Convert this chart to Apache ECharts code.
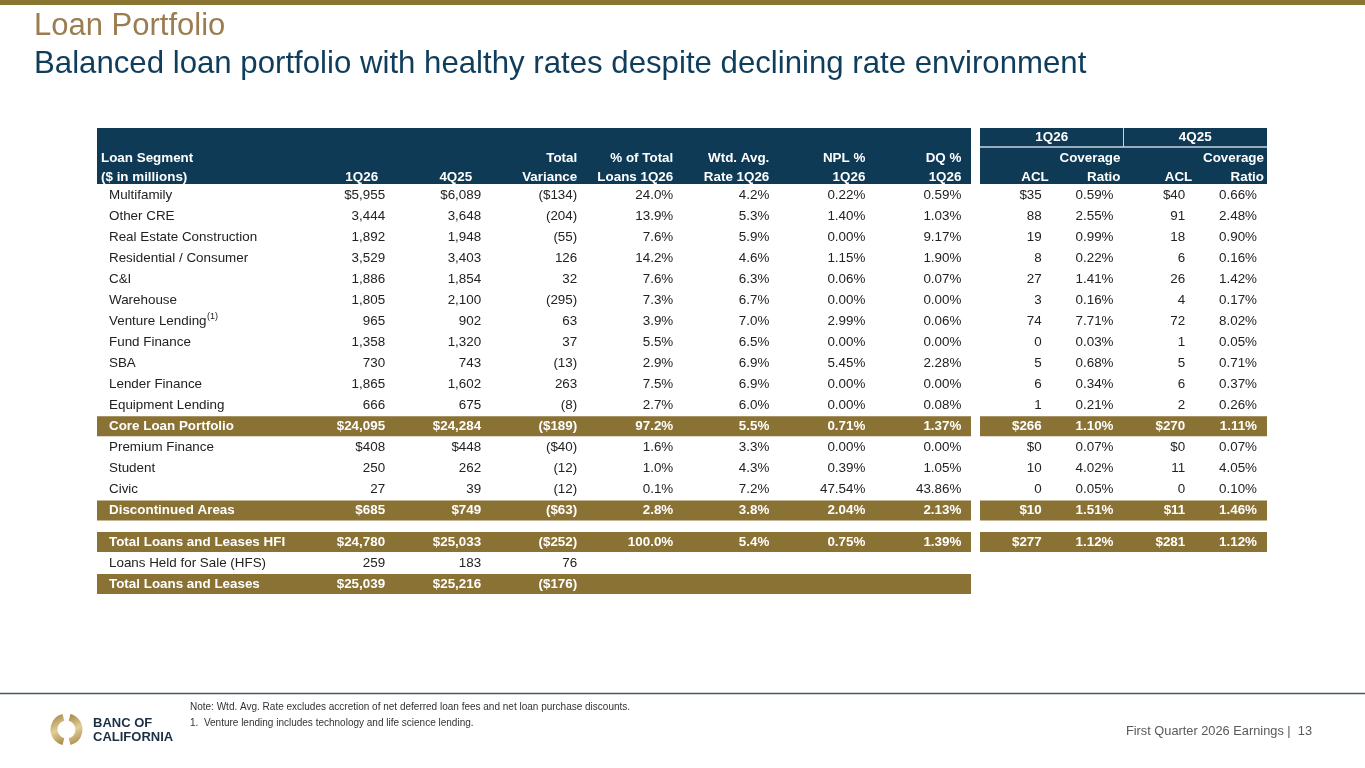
<!DOCTYPE html>
<html lang="en">
<head>
	<meta charset="UTF-8">
	<title>Loan Portfolio</title>
	<style>
		html, body { margin: 0; padding: 0; background: #fff; }
		#main { width: 1365px; height: 768px; }
	</style>
</head>
<body>
	<div id="main"></div>
</body>
</html>

<script src="https://cdn.jsdelivr.net/npm/echarts@6.0.0/dist/echarts.min.js"></script>
<script>

	var FONT = '"Liberation Sans", Arial, sans-serif';
	var FS = 13.4;
	var NAVY = '#0e3a56';
	var GOLD = '#8a7235';
	var INK = '#222222';

	// rows of the table (top block 0..15, bottom block 16..18)
	var segments = ['Multifamily', 'Other CRE', 'Real Estate Construction', 'Residential / Consumer', 'C&I',
		'Warehouse', 'Venture Lending', 'Fund Finance', 'SBA', 'Lender Finance', 'Equipment Lending',
		'Core Loan Portfolio', 'Premium Finance', 'Student', 'Civic', 'Discontinued Areas',
		'Total Loans and Leases HFI', 'Loans Held for Sale (HFS)', 'Total Loans and Leases'];

	var bal1Q26 = [5955, 3444, 1892, 3529, 1886, 1805, 965, 1358, 730, 1865, 666, 24095, 408, 250, 27, 685, 24780, 259, 25039];
	var bal4Q25 = [6089, 3648, 1948, 3403, 1854, 2100, 902, 1320, 743, 1602, 675, 24284, 448, 262, 39, 749, 25033, 183, 25216];
	var variance = [-134, -204, -55, 126, 32, -295, 63, 37, -13, 263, -8, -189, -40, -12, -12, -63, -252, 76, -176];
	var pctTotal = [24.0, 13.9, 7.6, 14.2, 7.6, 7.3, 3.9, 5.5, 2.9, 7.5, 2.7, 97.2, 1.6, 1.0, 0.1, 2.8, 100.0];
	var wtdRate = [4.2, 5.3, 5.9, 4.6, 6.3, 6.7, 7.0, 6.5, 6.9, 6.9, 6.0, 5.5, 3.3, 4.3, 7.2, 3.8, 5.4];
	var nplPct = [0.22, 1.40, 0.00, 1.15, 0.06, 0.00, 2.99, 0.00, 5.45, 0.00, 0.00, 0.71, 0.00, 0.39, 47.54, 2.04, 0.75];
	var dqPct = [0.59, 1.03, 9.17, 1.90, 0.07, 0.00, 0.06, 0.00, 2.28, 0.00, 0.08, 1.37, 0.00, 1.05, 43.86, 2.13, 1.39];
	var acl1Q26 = [35, 88, 19, 8, 27, 3, 74, 0, 5, 6, 1, 266, 0, 10, 0, 10, 277];
	var cov1Q26 = [0.59, 2.55, 0.99, 0.22, 1.41, 0.16, 7.71, 0.03, 0.68, 0.34, 0.21, 1.10, 0.07, 4.02, 0.05, 1.51, 1.12];
	var acl4Q25 = [40, 91, 18, 6, 26, 4, 72, 1, 5, 6, 2, 270, 0, 11, 0, 11, 281];
	var cov4Q25 = [0.66, 2.48, 0.90, 0.16, 1.42, 0.17, 8.02, 0.05, 0.71, 0.37, 0.26, 1.11, 0.07, 4.05, 0.10, 1.46, 1.12];

	var dollarRows = [0, 11, 12, 15, 16, 18];
	var totalRows = [11, 15, 16, 18];
	var footnotes = { 6: '(1)' };

	var leftHead1 = ['Loan Segment', '', '', 'Total', '% of Total', 'Wtd. Avg.', 'NPL %', 'DQ %'];
	var leftHead2 = ['($ in millions)', '1Q26', '4Q25', 'Variance', 'Loans 1Q26', 'Rate 1Q26', '1Q26', '1Q26'];
	var rightGroups = ['1Q26', '4Q25'];
	var rightHead1 = ['', 'Coverage', '', 'Coverage'];
	var rightHead2 = ['ACL', 'Ratio', 'ACL', 'Ratio'];

	// layout only
	var leftHeadDx = [0, -7, -9, 0, 0, 0, 0, 0];

	function slotOf(i) { return i >= 16 ? i + 0.5 : i; }   // small gap before the HFI block
	function money(v, i) {
		var s = Math.abs(v).toLocaleString('en-US');
		if (dollarRows.indexOf(i) >= 0) s = '$' + s;
		return v < 0 ? '(' + s + ')' : s;
	}
	function pct(v, d) { return v.toFixed(d) + '%'; }

	var measureCtx = document.createElement('canvas').getContext('2d');
	function textWidth(t, font) {
		measureCtx.font = font;
		return measureCtx.measureText(t).width;
	}

	var leftCells = [], rightCells = [];
	segments.forEach(function (name, i) {
		var row = [name, money(bal1Q26[i], i), money(bal4Q25[i], i), money(variance[i], i)];
		if (i < pctTotal.length) {
			row.push(pct(pctTotal[i], 1), pct(wtdRate[i], 1), pct(nplPct[i], 2), pct(dqPct[i], 2));
		}
		row.forEach(function (t, c) {
			leftCells.push({ value: [c === 0 ? -2 : c, slotOf(i)], text: t, row: i });
		});
		if (i < acl1Q26.length) {
			[money(acl1Q26[i], i), pct(cov1Q26[i], 2), money(acl4Q25[i], i), pct(cov4Q25[i], 2)].forEach(function (t, c) {
				rightCells.push({ value: [c + 1, slotOf(i)], text: t, row: i });
			});
		}
	});

	var leftBands = totalRows.map(function (r) { return [0, slotOf(r)]; });
	var rightBands = totalRows.filter(function (r) { return r < acl1Q26.length; })
		.map(function (r) { return [1, slotOf(r)]; });

	function cellRender(cells, pad) {
		return function (params, api) {
			var cell = cells[params.dataIndex];
			var p = api.coord([api.value(0), api.value(1)]);
			var total = totalRows.indexOf(cell.row) >= 0;
			var isLabel = api.value(0) < 0;
			var x = isLabel ? p[0] + 12 : p[0] - pad;
			var main = {
				type: 'text', x: x, y: p[1], z2: 10,
				style: {
					text: cell.text,
					fill: total ? '#ffffff' : INK,
					fontSize: FS, fontFamily: FONT,
					fontWeight: total ? 'bold' : 'normal',
					align: isLabel ? 'left' : 'right',
					verticalAlign: 'middle'
				}
			};
			if (!(isLabel && footnotes[cell.row])) return main;
			var w = textWidth(cell.text, FS + 'px ' + FONT);
			return {
				type: 'group',
				children: [main, {
					type: 'text', x: x + w + 0.5, y: p[1] - 4.5, z2: 10,
					style: { text: footnotes[cell.row], fill: INK, fontSize: 9, fontFamily: FONT, align: 'left', verticalAlign: 'middle' }
				}]
			};
		};
	}

	function bandRender(params, api) {
		var p = api.coord([api.value(0), api.value(1)]);
		var cs = params.coordSys;
		return {
			type: 'rect',
			shape: { x: cs.x, y: p[1] - 10, width: cs.width, height: 20 },
			style: { fill: GOLD }
		};
	}

	function headText(t, x, y, align) {
		return {
			type: 'text', x: x, y: y, z2: 10,
			style: { text: t, fill: '#ffffff', fontSize: FS, fontWeight: 'bold', fontFamily: FONT, align: align, verticalAlign: 'middle' }
		};
	}

	function leftHeader(params, api) {
		var cs = params.coordSys;
		var kids = [{ type: 'rect', shape: { x: cs.x, y: cs.y - 56.5, width: cs.width, height: 56 }, style: { fill: NAVY } }];
		leftHead1.forEach(function (h, c) {
			var x = c === 0 ? cs.x + 4 : api.coord([c, 0])[0] + leftHeadDx[c];
			var al = c === 0 ? 'left' : 'right';
			if (h) kids.push(headText(h, x, cs.y - 26.5, al));
			if (leftHead2[c]) kids.push(headText(leftHead2[c], x, cs.y - 7, al));
		});
		return { type: 'group', children: kids };
	}

	function rightHeader(params, api) {
		var cs = params.coordSys;
		var lineY = cs.y - 37.5;
		var mid = api.coord([2, 0])[0];
		var kids = [
			{ type: 'rect', shape: { x: cs.x, y: cs.y - 56.5, width: cs.width, height: 56 }, style: { fill: NAVY } },
			{ type: 'line', z2: 5, shape: { x1: cs.x, y1: lineY, x2: cs.x + cs.width, y2: lineY }, style: { stroke: '#c9d3dc', lineWidth: 1.5 } },
			{ type: 'line', z2: 5, shape: { x1: mid, y1: cs.y - 56.5, x2: mid, y2: lineY }, style: { stroke: '#c9d3dc', lineWidth: 1 } }
		];
		rightGroups.forEach(function (g, k) {
			kids.push(headText(g, api.coord([k * 2 + 1, 0])[0], cs.y - 47, 'center'));
		});
		rightHead2.forEach(function (h, c) {
			var x = api.coord([c + 1, 0])[0] - 3;
			if (rightHead1[c]) kids.push(headText(rightHead1[c], x, cs.y - 26.5, 'right'));
			kids.push(headText(h, x, cs.y - 7, 'right'));
		});
		return { type: 'group', children: kids };
	}

	var myChart = echarts.init(document.getElementById('main'));

	var yAx = { type: 'value', inverse: true, min: -0.5, max: 19, show: false };
	var logoGold = new echarts.graphic.LinearGradient(0, 0, 1, 1, [
		{ offset: 0, color: '#9c7d3e' }, { offset: 0.5, color: '#e3cf95' }, { offset: 1, color: '#9c7d3e' }
	]);

	var option = {
		animation: false,
		title: [{
			text: 'Loan Portfolio', left: 34, top: 11, padding: 0,
			textStyle: { fontSize: 31, fontWeight: 'normal', color: '#9b7d4f', fontFamily: FONT }
		}, {
			text: 'Balanced loan portfolio with healthy rates despite declining rate environment', left: 34, top: 48.5, padding: 0,
			textStyle: { fontSize: 31.2, fontWeight: 'normal', color: '#0f3d5c', fontFamily: FONT }
		}],
		grid: [
			{ left: 97, right: 394, top: 184.5, bottom: 173.5 },
			{ left: 980, right: 98, top: 184.5, bottom: 173.5 }
		],
		xAxis: [
			{ type: 'value', gridIndex: 0, min: -2, max: 7.1, show: false },
			{ type: 'value', gridIndex: 1, min: 0, max: 4, show: false }
		],
		yAxis: [
			Object.assign({ gridIndex: 0 }, yAx),
			Object.assign({ gridIndex: 1 }, yAx)
		],
		series: [
			{ type: 'custom', xAxisIndex: 0, yAxisIndex: 0, z: 1, renderItem: bandRender, data: leftBands },
			{ type: 'custom', xAxisIndex: 1, yAxisIndex: 1, z: 1, renderItem: bandRender, data: rightBands },
			{ type: 'custom', xAxisIndex: 0, yAxisIndex: 0, z: 2, renderItem: leftHeader, data: [[0, 0]] },
			{ type: 'custom', xAxisIndex: 1, yAxisIndex: 1, z: 2, renderItem: rightHeader, data: [[0, 0]] },
			{ type: 'custom', xAxisIndex: 0, yAxisIndex: 0, z: 3, renderItem: cellRender(leftCells, 0), data: leftCells.map(function (c) { return c.value; }) },
			{ type: 'custom', xAxisIndex: 1, yAxisIndex: 1, z: 3, renderItem: cellRender(rightCells, 10), data: rightCells.map(function (c) { return c.value; }) }
		],
		graphic: [
			{ type: 'rect', shape: { x: 0, y: 0, width: 1365, height: 5 }, style: { fill: '#8b7532' } },
			{ type: 'line', shape: { x1: 0, y1: 693.5, x2: 1365, y2: 693.5 }, style: { stroke: '#4b5862', lineWidth: 1.5 } },
			// logo
			{ type: 'arc', shape: { cx: 66.5, cy: 729.5, r: 12.5, startAngle: Math.PI * 0.58, endAngle: Math.PI * 1.42 },
				style: { stroke: logoGold, lineWidth: 7, fill: null } },
			{ type: 'arc', shape: { cx: 66.5, cy: 729.5, r: 12.5, startAngle: -Math.PI * 0.42, endAngle: Math.PI * 0.42 },
				style: { stroke: logoGold, lineWidth: 7, fill: null } },
			{ type: 'text', x: 93, y: 723, style: { text: 'BANC OF', fill: '#1b2f45', fontSize: 13, fontWeight: 'bold', fontFamily: FONT, verticalAlign: 'middle' } },
			{ type: 'text', x: 93, y: 737, style: { text: 'CALIFORNIA', fill: '#1b2f45', fontSize: 13, fontWeight: 'bold', fontFamily: FONT, verticalAlign: 'middle' } },
			// notes
			{ type: 'text', x: 190, y: 707, style: { text: 'Note: Wtd. Avg. Rate excludes accretion of net deferred loan fees and net loan purchase discounts.', fill: '#333333', fontSize: 10, fontFamily: FONT, verticalAlign: 'middle' } },
			{ type: 'text', x: 190, y: 723, style: { text: '1.  Venture lending includes technology and life science lending.', fill: '#333333', fontSize: 10, fontFamily: FONT, verticalAlign: 'middle' } },
			{ type: 'text', x: 1312, y: 731.5, style: { text: 'First Quarter 2026 Earnings |  13', fill: '#595959', fontSize: 12.8, fontFamily: FONT, align: 'right', verticalAlign: 'middle' } }
		]
	};
	myChart.setOption(option);

</script>
